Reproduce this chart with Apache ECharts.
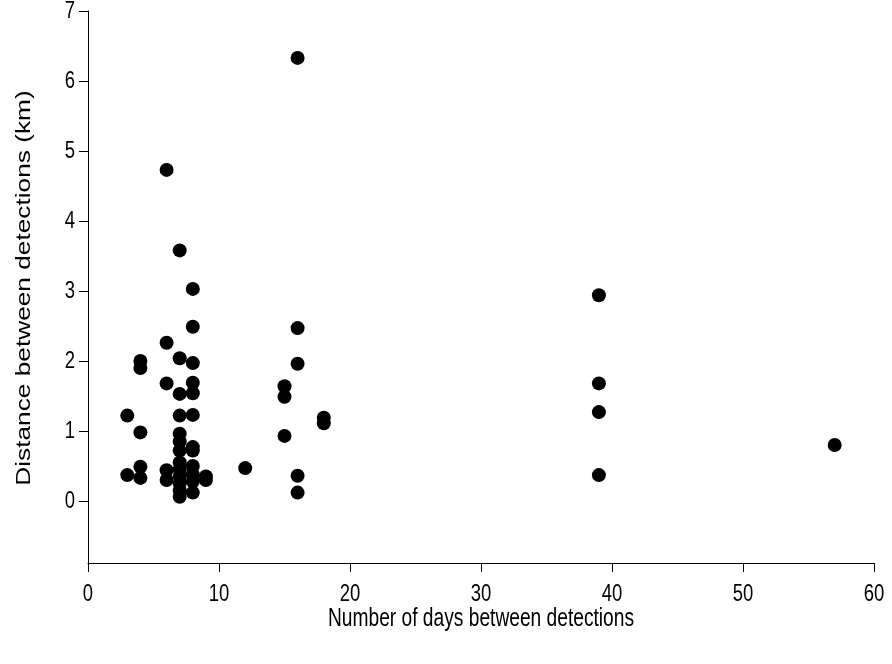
<!DOCTYPE html>
<html>
<head>
<meta charset="utf-8">
<script src="https://cdn.jsdelivr.net/npm/echarts@6/dist/echarts.min.js"></script>
<style>
  html, body { margin: 0; padding: 0; background: #fff; }
  #chart { width: 892px; height: 664px; }
</style>
</head>
<body>
<div id="chart"></div>
<script>
// Days between successive detections and the distance moved (km)
const days = [
  16, 6, 7, 8, 8, 6, 4, 4, 7, 8, 6, 8, 7, 8,
  3, 7, 8, 4, 7, 7, 7, 8, 8,
  3, 4, 4, 6, 6, 7, 7, 7, 7, 7, 7, 8, 8, 8, 8, 9, 9,
  12, 15, 15, 15, 16, 16, 16, 16, 18, 18,
  39, 39, 39, 39, 57
];
const distanceKm = [
  6.33, 4.73, 3.58, 3.03, 2.49, 2.26, 2.00, 1.90, 2.04, 1.97, 1.68, 1.69, 1.53, 1.54,
  1.22, 1.22, 1.23, 0.98, 0.96, 0.85, 0.72, 0.77, 0.72,
  0.37, 0.49, 0.33, 0.44, 0.30, 0.55, 0.45, 0.35, 0.25, 0.15, 0.06, 0.50, 0.38, 0.28, 0.12, 0.35, 0.30,
  0.47, 1.64, 1.49, 0.93, 2.47, 1.96, 0.36, 0.12, 1.19, 1.11,
  2.94, 1.68, 1.27, 0.37, 0.80
];
const xTicks = [0, 10, 20, 30, 40, 50, 60];
const yTicks = [0, 1, 2, 3, 4, 5, 6, 7];
const xTitle = 'Number of days between detections';
const yTitle = 'Distance between detections (km)';

const points = days.map((d, i) => [d, distanceKm[i]]);
const sans = '"Liberation Sans", Arial, sans-serif';
// Lettering in this figure is taller than it is wide
const tickStretch = 1.28;
const titleStretch = 1.35;

const chart = echarts.init(document.getElementById('chart'));
chart.setOption({
  animation: false,
  grid: { left: 88, right: 18, top: 11, bottom: 93 },
  xAxis: {
    type: 'value',
    min: 0, max: 60, interval: 10,
    offset: -8,
    axisLine: { show: true, onZero: false, lineStyle: { color: '#000', width: 1 } },
    axisTick: { show: true, inside: false, length: 9, lineStyle: { color: '#000' }, customValues: xTicks },
    axisLabel: { show: false },
    splitLine: { show: false }
  },
  yAxis: {
    type: 'value',
    min: -1, max: 7, interval: 1,
    axisLine: { show: true, onZero: false, lineStyle: { color: '#000', width: 1 } },
    axisTick: { show: true, inside: false, length: 9, lineStyle: { color: '#000' }, customValues: yTicks },
    axisLabel: { show: false },
    splitLine: { show: false }
  },
  series: [{
    type: 'scatter',
    data: points,
    symbol: 'circle',
    symbolSize: 14,
    itemStyle: { color: '#000', opacity: 1 }
  }]
});

// Tick labels and titles, placed from the axis scales and stretched vertically
function label(text, x, y, align) {
  return {
    type: 'text', x: x, y: y, scaleY: tickStretch, silent: true,
    style: { text: String(text), fontFamily: sans, fontSize: 18.5, fill: '#000', align: align, verticalAlign: 'middle' }
  };
}
const xAxisLineY = chart.convertToPixel({ yAxisIndex: 0 }, -1) - 8;
const yAxisLineX = chart.convertToPixel({ xAxisIndex: 0 }, 0);
const graphics = [];
xTicks.forEach(v => {
  graphics.push(label(v, chart.convertToPixel({ xAxisIndex: 0 }, v), xAxisLineY + 31, 'center'));
});
yTicks.forEach(v => {
  graphics.push(label(v, yAxisLineX - 13, chart.convertToPixel({ yAxisIndex: 0 }, v), 'right'));
});
graphics.push({
  type: 'text', x: 481, y: 619, scaleY: titleStretch, silent: true,
  style: { text: xTitle, fontFamily: sans, fontSize: 19.2, fill: '#000', align: 'center', verticalAlign: 'middle' }
});
graphics.push({
  type: 'text', x: 24, y: 288, rotation: Math.PI / 2, scaleX: 1.25, silent: true,
  style: { text: yTitle, fontFamily: sans, fontSize: 21, fill: '#000', align: 'center', verticalAlign: 'middle' }
});
chart.setOption({ graphic: graphics });
</script>
</body>
</html>
